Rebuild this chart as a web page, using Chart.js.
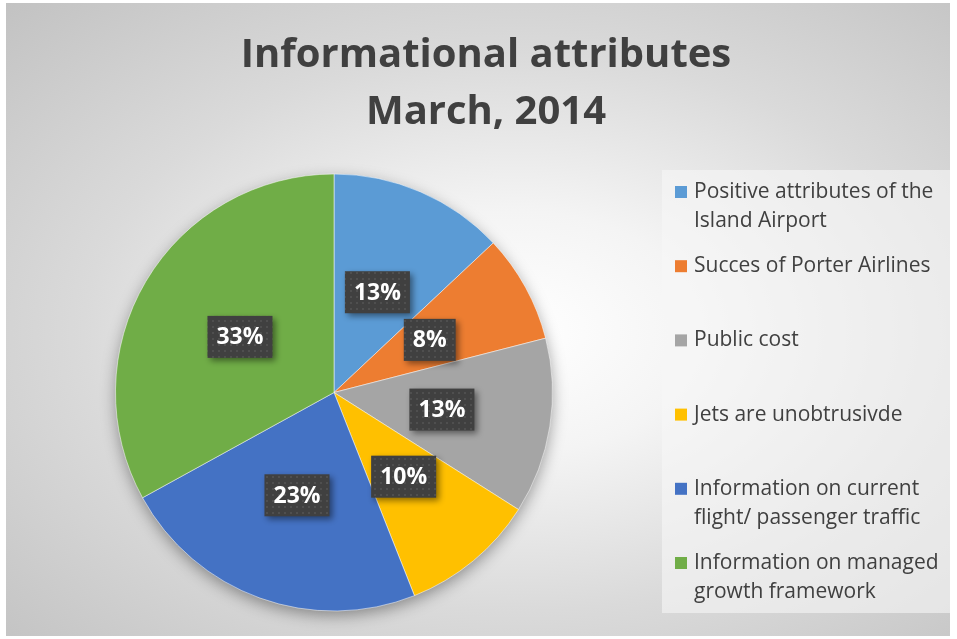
<!DOCTYPE html>
<html lang="en">
<head>
    <meta charset="UTF-8">
    <title>Informational attributes</title>
    <script src="https://cdn.jsdelivr.net/npm/chart.js@4.4.1/dist/chart.umd.min.js"></script>
    <style>
        html, body { margin: 0; padding: 0; background: #fff; }
        #frame {
            position: absolute; left: 6px; top: 3px; width: 944px; height: 633px;
            background: radial-gradient(ellipse farthest-corner at 54% 52%, #ffffff 0%, #f4f4f4 26%, #dadada 60%, #c2c2c2 100%);
        }
        #my-pie-chart { position: absolute; left: 0; top: 0; }
    </style>
</head>
<body>

<div id="frame"></div>
<canvas id="my-pie-chart" width="957" height="639"></canvas>

<script>
    const titleLines = ['Informational attributes', 'March, 2014'];
    const categories = [
        ['Positive attributes of the', 'Island Airport'],
        ['Succes of Porter Airlines'],
        ['Public cost'],
        ['Jets are unobtrusivde'],
        ['Information on current', 'flight/ passenger traffic'],
        ['Information on managed', 'growth framework']
    ];
    const shares = [13, 8, 13, 10, 23, 33];
    const colors = ['#5B9BD5', '#ED7D31', '#A5A5A5', '#FFC000', '#4472C4', '#70AD47'];

    // dotted fill used behind the data labels
    function dotPattern(ctx) {
        const c = document.createElement('canvas');
        c.width = 6; c.height = 6;
        const g = c.getContext('2d');
        g.fillStyle = '#404040';
        g.fillRect(0, 0, 6, 6);
        g.fillStyle = '#4f4f4f';
        g.fillRect(2, 2, 2, 2);
        return ctx.createPattern(c, 'repeat');
    }

    const decorations = {
        id: 'decorations',
        beforeDatasetsDraw(chart) {
            const arc = chart.getDatasetMeta(0).data[0];
            if (!arc) return;
            const ctx = chart.ctx;
            ctx.save();
            ctx.shadowColor = 'rgba(0,0,0,0.4)';
            ctx.shadowBlur = 16;
            ctx.shadowOffsetY = 5;
            ctx.fillStyle = '#999';
            ctx.beginPath();
            ctx.arc(arc.x, arc.y, arc.outerRadius - 1, 0, Math.PI * 2);
            ctx.fill();
            ctx.restore();
        },
        afterDraw(chart) {
            const ctx = chart.ctx;
            ctx.save();

            // title
            ctx.fillStyle = '#404040';
            ctx.font = 'bold 40px "Open Sans"';
            ctx.textAlign = 'center';
            ctx.textBaseline = 'middle';
            titleLines.forEach((t, i) => ctx.fillText(t, 486, 56 + i * 57));

            // data labels
            const pattern = dotPattern(ctx);
            ctx.font = 'bold 23px "Open Sans"';
            chart.getDatasetMeta(0).data.forEach((arc, i) => {
                const p = arc.tooltipPosition();
                const text = shares[i] + '%';
                const w = ctx.measureText(text).width + 18;
                const h = 42;
                ctx.save();
                ctx.shadowColor = 'rgba(0,0,0,0.45)';
                ctx.shadowBlur = 6;
                ctx.shadowOffsetX = 3;
                ctx.shadowOffsetY = 3;
                ctx.fillStyle = pattern;
                ctx.fillRect(p.x - w / 2, p.y - h / 2, w, h);
                ctx.restore();
                ctx.fillStyle = '#ffffff';
                ctx.fillText(text, p.x, p.y + 1);
            });

            // legend
            ctx.fillStyle = 'rgba(246,246,246,0.6)';
            ctx.fillRect(662, 170, 288, 443);
            ctx.font = '21px "Open Sans"';
            ctx.textAlign = 'left';
            categories.forEach((lines, i) => {
                const y = 192 + i * 74.2;
                ctx.fillStyle = colors[i];
                ctx.fillRect(675, y - 6, 12, 12);
                ctx.fillStyle = '#404040';
                lines.forEach((l, j) => ctx.fillText(l, 694, y + j * 29));
            });
            ctx.restore();
        }
    };

    new Chart('my-pie-chart', {
        type: 'pie',
        data: {
            labels: categories,
            datasets: [{
                data: shares,
                backgroundColor: colors,
                borderColor: 'rgba(255,255,255,0.5)',
                borderWidth: 1
            }]
        },
        options: {
            responsive: false,
            animation: false,
            layout: {
                padding: { left: 115, right: 404, top: 173, bottom: 27 }
            },
            plugins: {
                legend: { display: false },
                tooltip: { enabled: false },
                title: { display: false }
            }
        },
        plugins: [decorations]
    });
</script>

</body>
</html>
